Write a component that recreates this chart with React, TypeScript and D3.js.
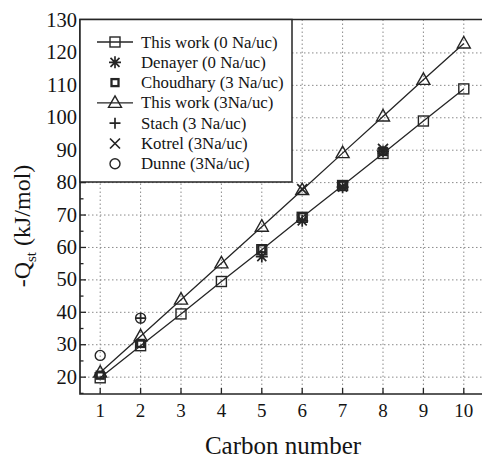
import React from "react";
import * as d3 from "d3";

const carbonNumbers = [1, 2, 3, 4, 5, 6, 7, 8, 9, 10];
const thisWork0 = [19.8, 29.7, 39.5, 49.5, 59.3, 69.3, 79.1, 89.0, 99.0, 108.9];
const thisWork3 = [21.4, 32.6, 43.9, 55.1, 66.4, 77.7, 89.1, 100.4, 111.7, 122.9];
const denayerX = [5, 6, 7, 8];
const denayerY = [57.2, 68.2, 78.6, 89.6];
const choudharyX = [1, 2, 5, 6, 7, 8];
const choudharyY = [20.6, 30.4, 59.6, 69.5, 79.2, 89.6];
const stachX = [2];
const stachY = [38.2];
const kotrelX = [6, 8];
const kotrelY = [78.0, 90.4];
const dunneX = [1, 2];
const dunneY = [26.7, 38.2];
const yTicks = [20, 30, 40, 50, 60, 70, 80, 90, 100, 110, 120, 130];
const legendLabels = [
  "This work (0 Na/uc)",
  "Denayer (0 Na/uc)",
  "Choudhary (3 Na/uc)",
  "This work (3Na/uc)",
  "Stach (3 Na/uc)",
  "Kotrel (3Na/uc)",
  "Dunne (3Na/uc)",
];
const legendKinds = ["square", "asterisk", "boldsquare", "triangle", "plus", "cross", "circle"];
const legendHasLine = [true, false, false, true, false, false, false];

const W = 482;
const H = 459;
const left = 80;
const right = 484;
const top = 19.5;
const bottom = 394;
const ink = "#252525";

const x = d3.scaleLinear().domain([0.5, 10.5]).range([left, right]);
const y = d3.scaleLinear().domain([14.8, 130]).range([bottom, 20.5]);

function Marker({ kind, cx, cy }: { kind: string; cx: number; cy: number }) {
  const s = ink;
  switch (kind) {
    case "square":
      return <rect x={cx - 5} y={cy - 5} width={10} height={10} fill="none" stroke={s} strokeWidth={1.4} />;
    case "boldsquare":
      return <rect x={cx - 3.5} y={cy - 3.5} width={7} height={7} fill="none" stroke={s} strokeWidth={2.3} />;
    case "triangle":
      return (
        <path d={`M${cx},${cy - 7} L${cx + 6.5},${cy + 4.5} L${cx - 6.5},${cy + 4.5} Z`} fill="none" stroke={s} strokeWidth={1.4} />
      );
    case "circle":
      return <circle cx={cx} cy={cy} r={5} fill="none" stroke={s} strokeWidth={1.4} />;
    case "plus":
      return <path d={`M${cx - 5.5},${cy} H${cx + 5.5} M${cx},${cy - 5.5} V${cy + 5.5}`} stroke={s} strokeWidth={1.7} />;
    case "cross":
      return <path d={`M${cx - 5},${cy - 5} L${cx + 5},${cy + 5} M${cx + 5},${cy - 5} L${cx - 5},${cy + 5}`} stroke={s} strokeWidth={1.7} />;
    case "asterisk":
      return (
        <path
          d={`M${cx - 6},${cy} H${cx + 6} M${cx},${cy - 6} V${cy + 6} M${cx - 4.5},${cy - 4.5} L${cx + 4.5},${cy + 4.5} M${cx + 4.5},${cy - 4.5} L${cx - 4.5},${cy + 4.5}`}
          stroke={s}
          strokeWidth={1.7}
        />
      );
    default:
      return null;
  }
}

const font = '"Liberation Serif", "Times New Roman", Times, "DejaVu Serif", serif';
const txt = { fontFamily: font } as React.CSSProperties;
const textColor = "#141414";

export default function App() {
  const line = d3
    .line<[number, number]>()
    .x((d) => x(d[0]))
    .y((d) => y(d[1]));
  const d0 = line(carbonNumbers.map((c, i) => [c, thisWork0[i]] as [number, number])) || "";
  const d3w = line(carbonNumbers.map((c, i) => [c, thisWork3[i]] as [number, number])) || "";
  const minorTicks = d3.range(15, 130, 5);

  const legLeft = left;
  const legRight = 292;
  const legTop = top;
  const legBottom = 182;
  const legY0 = 42;
  const legStep = 20.3;

  const scatter = (xs: number[], ys: number[], kind: string) =>
    xs.map((c, i) => <Marker key={kind + i} kind={kind} cx={x(c)} cy={y(ys[i])} />);

  return (
    <svg width={W} height={H} style={{ position: "absolute", left: 0, top: 0, background: "#fff", fontFamily: font }}>
      <rect x={0} y={0} width={W} height={H} fill="#fff" />
      {/* grid */}
      <g stroke="#8a8a8a" strokeWidth={1} strokeDasharray="1.5,2.5">
        {carbonNumbers.map((c) => (
          <line key={"gx" + c} x1={x(c)} x2={x(c)} y1={top} y2={bottom} />
        ))}
        {yTicks.slice(0, -1).map((t) => (
          <line key={"gy" + t} x1={left} x2={right} y1={y(t)} y2={y(t)} />
        ))}
      </g>
      {/* ticks */}
      <g stroke={ink} strokeWidth={1.3}>
        {minorTicks.map((t) => (
          <line key={"mt" + t} x1={left} x2={left + (t % 10 === 0 ? 6 : 3.5)} y1={y(t)} y2={y(t)} />
        ))}
        {carbonNumbers.map((c) => (
          <line key={"bt" + c} x1={x(c)} x2={x(c)} y1={bottom} y2={bottom - 6} />
        ))}
      </g>
      {/* data lines */}
      <path d={d0} fill="none" stroke={ink} strokeWidth={1.3} />
      <path d={d3w} fill="none" stroke={ink} strokeWidth={1.3} />
      {/* markers */}
      {carbonNumbers.map((c, i) => (
        <Marker key={"s" + c} kind="square" cx={x(c)} cy={y(thisWork0[i])} />
      ))}
      {carbonNumbers.map((c, i) => (
        <Marker key={"t" + c} kind="triangle" cx={x(c)} cy={y(thisWork3[i])} />
      ))}
      {scatter(denayerX, denayerY, "asterisk")}
      {scatter(choudharyX, choudharyY, "boldsquare")}
      {scatter(stachX, stachY, "plus")}
      {scatter(kotrelX, kotrelY, "cross")}
      {scatter(dunneX, dunneY, "circle")}
      {/* frame */}
      <path d={`M${right},${top} H${left} V${bottom} H${right}`} fill="none" stroke={ink} strokeWidth={1.7} />
      {/* legend */}
      <rect x={legLeft} y={legTop} width={legRight - legLeft} height={legBottom - legTop} fill="#fff" stroke={ink} strokeWidth={1.5} />
      {legendLabels.map((lab, i) => {
        const ly = legY0 + i * legStep;
        return (
          <g key={"leg" + i}>
            {legendHasLine[i] && <line x1={97} x2={133} y1={ly} y2={ly} stroke={ink} strokeWidth={1.3} />}
            <Marker kind={legendKinds[i]} cx={115} cy={ly} />
            <text x={141} y={ly + 5.5} fontSize={16.8} fill={textColor} style={txt}>
              {lab}
            </text>
          </g>
        );
      })}
      {/* y tick labels */}
      {yTicks.map((t) => (
        <text key={"yl" + t} x={77} y={y(t) + 6.5} fontSize={20.5} textAnchor="end" fill={textColor} style={txt}>
          {t}
        </text>
      ))}
      {/* x tick labels */}
      {carbonNumbers.map((c) => (
        <text key={"xl" + c} x={x(c)} y={417} fontSize={19} textAnchor="middle" fill={textColor} style={txt}>
          {c}
        </text>
      ))}
      <text x={283} y={454} fontSize={25} textAnchor="middle" fill={textColor} style={txt}>
        Carbon number
      </text>
      <text transform="translate(30,226) rotate(-90)" fontSize={24} textAnchor="middle" fill={textColor} style={txt}>
        -Q
        <tspan fontSize={15} dy={6}>st</tspan>
        <tspan dy={-6}> (kJ/mol)</tspan>
      </text>
    </svg>
  );
}
